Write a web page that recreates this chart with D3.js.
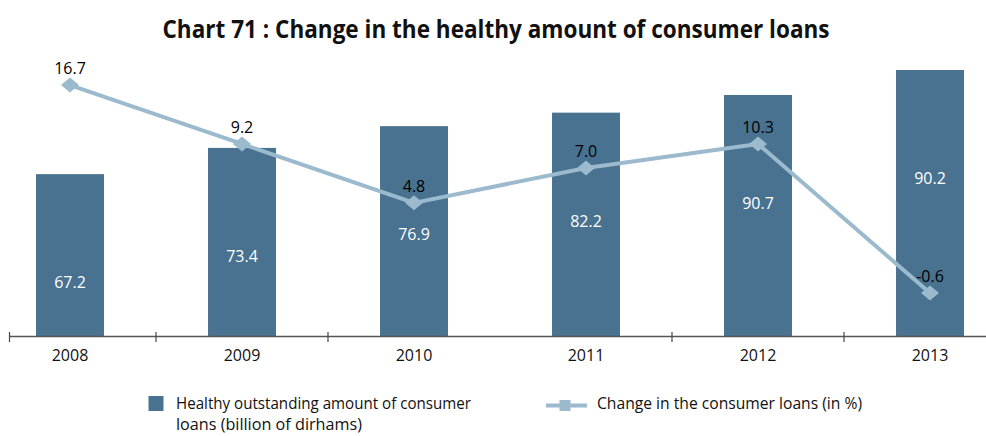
<!DOCTYPE html>
<html>
<head>
<meta charset="utf-8">
<script src="https://cdn.jsdelivr.net/npm/d3@7"></script>
<style>
  html, body { margin: 0; padding: 0; background: #ffffff; }
  svg { display: block; }
  text { font-family: "Open Sans", "Noto Sans", sans-serif; }
</style>
</head>
<body>
<svg id="chart" width="986" height="436"></svg>
<script>
// ---- data ----
const years = ["2008", "2009", "2010", "2011", "2012", "2013"];
// printed values of the bars (billion of dirhams)
const loanLabels = ["67.2", "73.4", "76.9", "82.2", "90.7", "90.2"];
// bar heights as drawn in the picture (same units)
const loanBarValues = [67.2, 73.6, 78.9, 82.2, 86.5, 92.6];
// printed values of the line (%)
const changeLabels = ["16.7", "9.2", "4.8", "7.0", "10.3", "-0.6"];
// line point heights as drawn in the picture (%)
const changePointValues = [16.7, 11.8, 6.9, 9.8, 11.8, -0.6];

const titleText = "Chart 71 : Change in the healthy amount of consumer loans";
const legendBarLines = ["Healthy outstanding amount of consumer", "loans (billion of dirhams)"];
const legendLineText = "Change in the consumer loans (in %)";

// ---- styles ----
const barColor = "#48728f";
const lineColor = "#9bbacd";
const axisY = 336.5;

const svg = d3.select("#chart");

const x = d3.scaleBand().domain(years).range([-16, 1016])
  .paddingInner(0.605).paddingOuter(0.3025);
const yBar = d3.scaleLinear().domain([27.6, 100]).range([axisY, 39.66]);
const yLine = d3.scaleLinear().domain([0, 20]).range([285.8, 45.4]);

const rows = years.map((y, i) => ({
  year: y, bar: loanBarValues[i], barLabel: loanLabels[i],
  pt: changePointValues[i], ptLabel: changeLabels[i]
}));

// title
svg.append("text")
  .attr("x", 496).attr("y", 38)
  .attr("text-anchor", "middle")
  .attr("font-size", 25).attr("font-weight", 700)
  .attr("fill", "#111")
  .attr("textLength", 667).attr("lengthAdjust", "spacingAndGlyphs")
  .text(titleText);

// bars
svg.append("g").selectAll("rect").data(rows).join("rect")
  .attr("x", d => x(d.year))
  .attr("width", x.bandwidth())
  .attr("y", d => yBar(d.bar))
  .attr("height", d => axisY - yBar(d.bar))
  .attr("fill", barColor);

// bar labels
svg.append("g").selectAll("text").data(rows).join("text")
  .attr("x", d => x(d.year) + x.bandwidth() / 2)
  .attr("y", d => yBar(d.bar) + 114)
  .attr("text-anchor", "middle")
  .attr("font-size", 16)
  .attr("fill", "#ffffff")
  .text(d => d.barLabel);

// axis
const axis = d3.axisBottom(x).tickSizeInner(0).tickSizeOuter(0).tickPadding(13);
const gAxis = svg.append("g").attr("transform", `translate(0,${axisY})`).call(axis);
gAxis.select(".domain").remove();
gAxis.selectAll("text").attr("font-size", 16).attr("fill", "#111")
  .attr("font-family", "'Open Sans', sans-serif");

svg.append("line")
  .attr("x1", 9.5).attr("x2", 986).attr("y1", axisY).attr("y2", axisY)
  .attr("stroke", "#555").attr("stroke-width", 1.6);

// tick marks: left edge and between categories (no tick between 2010 and 2011 in the original)
const step = x.step();
const tickXs = [9.5].concat(
  years.slice(0, -1)
    .map((y, i) => ({ i, pos: x(y) + x.bandwidth() / 2 + step / 2 }))
    .filter(d => d.i !== 2)
    .map(d => d.pos)
);
svg.append("g").selectAll("line").data(tickXs).join("line")
  .attr("x1", d => d).attr("x2", d => d)
  .attr("y1", axisY - 4.5).attr("y2", axisY + 5.5)
  .attr("stroke", "#444").attr("stroke-width", 1.2);

// line
const cx = d => x(d.year) + x.bandwidth() / 2;
const lineGen = d3.line().x(cx).y(d => yLine(d.pt));
svg.append("path").datum(rows)
  .attr("d", lineGen)
  .attr("fill", "none")
  .attr("stroke", lineColor)
  .attr("stroke-width", 4)
  .attr("stroke-linejoin", "round");

// diamond markers
svg.append("g").selectAll("path").data(rows).join("path")
  .attr("d", d => {
    const px = cx(d), py = yLine(d.pt);
    return `M${px - 9},${py} L${px},${py - 7.5} L${px + 9},${py} L${px},${py + 7.5} Z`;
  })
  .attr("fill", lineColor);

// line labels
svg.append("g").selectAll("text").data(rows).join("text")
  .attr("x", cx)
  .attr("y", d => yLine(d.pt) - 11)
  .attr("text-anchor", "middle")
  .attr("font-size", 16)
  .attr("fill", "#000")
  .text(d => d.ptLabel);

// legend
const lg = svg.append("g");
lg.append("rect").attr("x", 148.5).attr("y", 396).attr("width", 15).attr("height", 15)
  .attr("fill", barColor);
lg.append("text").attr("x", 176).attr("y", 409).attr("font-size", 16).attr("fill", "#111")
  .attr("textLength", 295).attr("lengthAdjust", "spacingAndGlyphs")
  .text(legendBarLines[0]);
lg.append("text").attr("x", 176).attr("y", 430).attr("font-size", 16).attr("fill", "#111")
  .attr("textLength", 186).attr("lengthAdjust", "spacingAndGlyphs")
  .text(legendBarLines[1]);

lg.append("line").attr("x1", 546).attr("x2", 587).attr("y1", 405.5).attr("y2", 405.5)
  .attr("stroke", lineColor).attr("stroke-width", 4);
lg.append("rect").attr("x", 559.5).attr("y", 400).attr("width", 11).attr("height", 11)
  .attr("fill", lineColor);
lg.append("text").attr("x", 597).attr("y", 409).attr("font-size", 16).attr("fill", "#111")
  .attr("textLength", 265).attr("lengthAdjust", "spacingAndGlyphs")
  .text(legendLineText);
</script>
</body>
</html>
